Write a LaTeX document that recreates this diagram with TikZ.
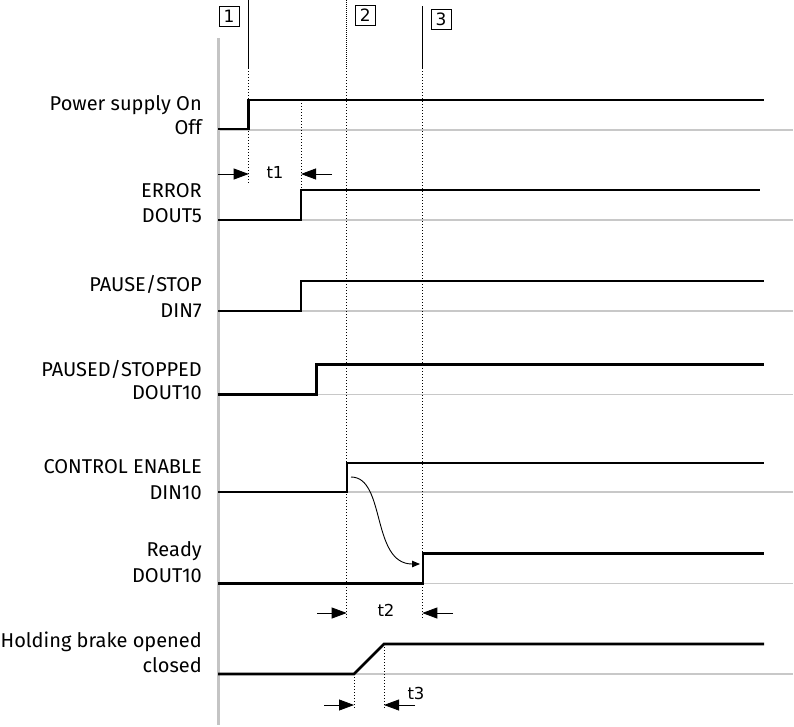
\documentclass[tikz,border=0pt]{standalone}
\usepackage{fontspec}
\setmainfont{Fira Sans}
\newfontfamily\dvfont{DejaVu Sans}
\usetikzlibrary{arrows.meta}
\definecolor{axisgray}{HTML}{C4C4C4}
\definecolor{basegray}{HTML}{C8C8C8}
\begin{document}
\begin{tikzpicture}[x=1pt,y=-1pt,
  lbl/.style={anchor=base east,inner sep=0pt,font=\fontsize{20}{24}\selectfont},
  sig/.style={line width=2.6pt,line join=miter,black},
  base/.style={line width=1.1pt,basegray},
  marker/.style={line width=0.9pt,black},
  dotline/.style={line width=1pt,black,dash pattern=on 1.3pt off 1.7pt},
  numbox/.style={draw,line width=0.9pt,minimum width=20pt,minimum height=20pt,inner sep=0pt,font=\dvfont\fontsize{17}{17}\selectfont},
  dimarrow/.style={line width=0.8pt,-{Triangle[length=15pt,width=11pt]}},
  tlabel/.style={anchor=base,inner sep=0pt,font=\dvfont\fontsize{16.5}{16.5}\selectfont}
]
\useasboundingbox (0,0) rectangle (794,726);

% axis
\draw[axisgray,line width=3pt] (218,38) coordinate (axtop) -- (218,725) coordinate (axbot);

% gray baselines
\draw[basegray,line width=2pt] (218,129.5) -- (793,129.5);
\foreach \y in {220,311,394.5,492,583.5,674}{
  \draw[base] (218,\y) -- (793,\y);
}

% time markers
\draw[marker] (248.7,0) -- (248.7,68);
\draw[dotline] (248.7,68) -- (248.7,183);
\draw[dotline,dash pattern=on 1pt off 1pt] (346.7,0) -- (346.7,68);
\draw[dotline] (346.7,68) -- (346.7,618);
\draw[marker] (422.3,6) -- (422.3,68);
\draw[dotline] (422.3,68) -- (422.3,618);
\draw[dotline] (301,100) -- (301,190);
\draw[dotline] (354,674) -- (354,708);
\draw[dotline] (384,644) -- (384,708);

% numbered boxes
\node[numbox] (b1) at (229,16.5) {1};
\node[numbox] (b2) at (365.3,15.3) {2};
\node[numbox] (b3) at (441,19.2) {3};

% signals
\draw[sig] (218,129) -- (248.7,129) -- (248.7,100) -- (764,100);
\draw[sig] (218,220) -- (301,220) -- (301,190) -- (760,190);
\draw[sig] (218,311) -- (301,311) -- (301,281) -- (764,281);
\draw[sig] (218,394.5) -- (316.7,394.5) -- (316.7,364.5) -- (764,364.5);
\draw[sig] (218,492) -- (347,492) -- (347,463) -- (764,463);
\draw[sig] (218,583.5) -- (423,583.5) -- (423,553.5) -- (764,553.5);
\draw[sig] (218,674) -- (354,674) -- (384,644) -- (764,644);

% labels
\node[lbl] (l1a) at (202,110.7) {Power supply On};
\node[lbl] (l1b) at (202,134) {Off};
\node[lbl] (l2a) at (202,197.3) {ERROR};
\node[lbl] (l2b) at (202,222.7) {DOUT5};
\node[lbl] (l3a) at (202,291.7) {PAUSE/STOP};
\node[lbl] (l3b) at (202,317.3) {DIN7};
\node[lbl] (l4a) at (202,376) {PAUSED/STOPPED};
\node[lbl] (l4b) at (202,399.3) {DOUT10};
\node[lbl] (l5a) at (202,473.3) {CONTROL ENABLE};
\node[lbl] (l5b) at (202,499) {DIN10};
\node[lbl] (l6a) at (202,556.7) {Ready};
\node[lbl] (l6b) at (202,582.3) {DOUT10};
\node[lbl] (l7a) at (202,647.7) {Holding brake opened};
\node[lbl] (l7b) at (202,672.3) {closed};

% curved cause arrow
\coordinate (cs) at (351,477);
\coordinate (ce) at (420,564);
\draw[line width=0.9pt,-{Triangle[length=8pt,width=6.5pt]}] (cs) .. controls (386,477) and (371,564) .. (ce);

% t1
\coordinate (t1a) at (218,174);
\coordinate (t1b) at (248.7,174);
\coordinate (t1c) at (332,174);
\coordinate (t1d) at (301,174);
\draw[dimarrow] (t1a) -- (t1b);
\draw[dimarrow] (t1c) -- (t1d);
\node[tlabel] (t1) at (275,178.3) {t1};

% t2
\coordinate (t2a) at (317,613);
\coordinate (t2b) at (346.7,613);
\coordinate (t2c) at (453,613);
\coordinate (t2d) at (422.3,613);
\draw[dimarrow] (t2a) -- (t2b);
\draw[dimarrow] (t2c) -- (t2d);
\node[tlabel] (t2) at (386,616.7) {t2};

% t3
\coordinate (t3a) at (324,705);
\coordinate (t3b) at (354,705);
\coordinate (t3c) at (415,705);
\coordinate (t3d) at (384,705);
\draw[dimarrow] (t3a) -- (t3b);
\draw[dimarrow] (t3c) -- (t3d);
\node[tlabel] (t3) at (416,699) {t3};
\end{tikzpicture}
\end{document}
